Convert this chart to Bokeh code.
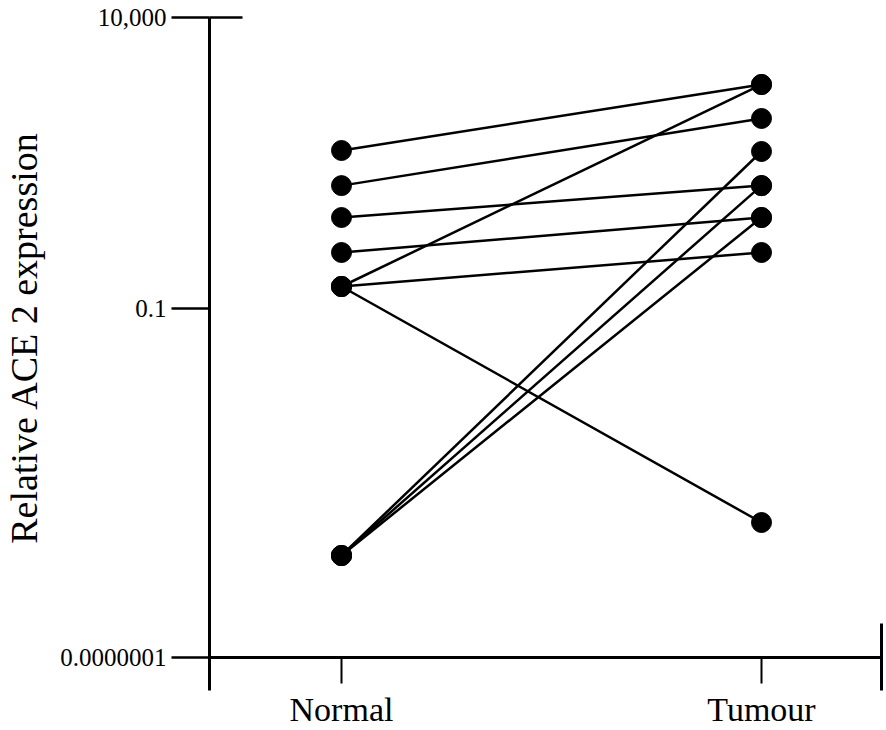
from bokeh.plotting import figure
from bokeh.models import ColumnDataSource, FixedTicker, CustomJSTickFormatter, Range1d
from bokeh.embed import file_html
from bokeh.resources import INLINE

# ---- data ----
groups = ["Normal", "Tumour"]
group_pos = [1, 2]
normal_vals = [51.8, 12.9, 3.65, 0.914, 0.238, 0.238, 0.238, 5.66e-6, 5.66e-6, 5.66e-6]
tumour_vals = [705, 184, 12.9, 3.65, 0.914, 705, 2.09e-5, 49.8, 12.9, 3.65]
y_ticks = [1e-7, 0.1, 1e4]
y_tick_labels = ["0.0000001", "0.1", "10,000"]
y_label = "Relative ACE 2 expression"

# ---- ranges ----
x_start, x_end = 0.68571, 2.28571
y_start, y_end = y_ticks[0], y_ticks[-1]

FONT = "Liberation Serif"

p = figure(width=886, height=730, y_axis_type="log",
           x_range=Range1d(x_start, x_end), y_range=Range1d(y_start, y_end),
           output_backend="svg", toolbar_location=None,
           min_border_left=209, min_border_top=17, min_border_bottom=73,
           min_border_right=5)
p.outline_line_color = None
p.xgrid.visible = False
p.ygrid.visible = False
p.background_fill_color = "white"
p.border_fill_color = "white"

src = ColumnDataSource(dict(
    x0=[group_pos[0]] * len(normal_vals), y0=normal_vals,
    x1=[group_pos[1]] * len(tumour_vals), y1=tumour_vals,
))
p.segment(x0="x0", y0="y0", x1="x1", y1="y1", source=src,
          line_color="black", line_width=2.5)
p.scatter(x="x0", y="y0", source=src, size=20, color="black")
p.scatter(x="x1", y="y1", source=src, size=20, color="black")

# ---- y axis ----
ya = p.yaxis[0]
ya.ticker = FixedTicker(ticks=y_ticks, minor_ticks=[y_end])
ya.formatter = CustomJSTickFormatter(args=dict(vals=y_ticks, labs=y_tick_labels), code="""
for (let i = 0; i < vals.length; i++) {
  if (Math.abs(Math.log10(tick) - Math.log10(vals[i])) < 1e-6) return labs[i];
}
return "";
""")
ya.axis_line_width = 3
ya.axis_line_color = "black"
ya.major_tick_out = 38
ya.major_tick_in = 0
ya.minor_tick_in = 33
ya.minor_tick_out = 0
ya.major_tick_line_width = 2.5
ya.minor_tick_line_width = 2.5
ya.major_tick_line_color = "black"
ya.minor_tick_line_color = "black"
ya.major_label_text_font = FONT
ya.major_label_text_font_size = "25px"
ya.major_label_text_color = "black"
ya.major_label_standoff = 5
ya.axis_label = y_label
ya.axis_label_text_font = FONT
ya.axis_label_text_font_size = "38px"
ya.axis_label_text_font_style = "normal"
ya.axis_label_text_color = "black"
ya.axis_label_standoff = 12

# ---- x axis ----
xa = p.xaxis[0]
xa.ticker = FixedTicker(ticks=group_pos, minor_ticks=[x_start, x_end])
xa.formatter = CustomJSTickFormatter(args=dict(pos=group_pos, labs=groups), code="""
for (let i = 0; i < pos.length; i++) { if (Math.abs(tick - pos[i]) < 1e-6) return labs[i]; }
return "";
""")
xa.axis_line_width = 3
xa.axis_line_color = "black"
xa.major_tick_out = 26
xa.major_tick_in = 0
xa.minor_tick_out = 33
xa.minor_tick_in = 34
xa.major_tick_line_width = 2
xa.minor_tick_line_width = 3
xa.major_tick_line_color = "black"
xa.minor_tick_line_color = "black"
xa.major_label_text_font = FONT
xa.major_label_text_font_size = "34px"
xa.major_label_text_color = "black"
xa.major_label_standoff = 0

open("out.html", "w").write(file_html(p, INLINE))
